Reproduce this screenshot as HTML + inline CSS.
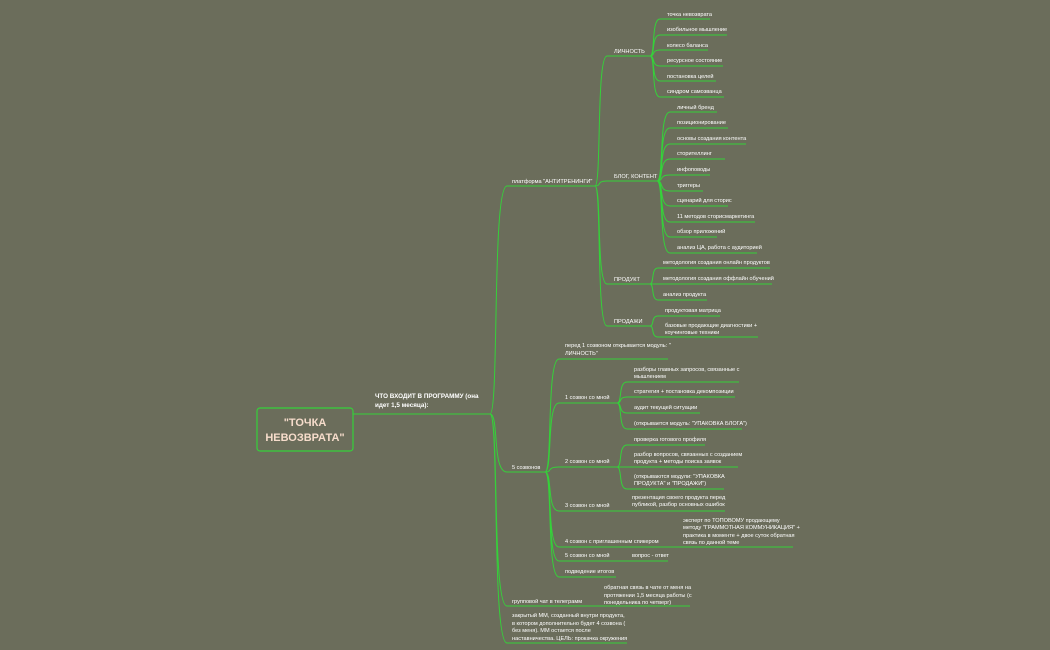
<!DOCTYPE html>
<html><head><meta charset="utf-8"><style>
html,body{margin:0;padding:0;background:#6b6d5b;width:1050px;height:650px;overflow:hidden}
svg{display:block}
text{font-family:"Liberation Sans","DejaVu Sans",sans-serif;font-size:5.6px;fill:#fff}
.b{font-size:7px;font-weight:bold}
.m{font-size:6px}
</style></head><body>
<svg id="s" width="1050" height="650" viewBox="0 0 1050 650">
<g id="lines" fill="none" stroke="#35d13a" stroke-width="1"></g>
<rect x="257" y="408" width="96" height="43" rx="3" fill="#6b6d5b" stroke="#35d13a" stroke-width="1.2"/>
<text x="305" y="426" text-anchor="middle" style="font-size:11px;font-weight:bold;fill:#f6dccb">"ТОЧКА</text>
<text x="305" y="441" text-anchor="middle" style="font-size:11px;font-weight:bold;fill:#f6dccb">НЕВОЗВРАТА"</text>
<text x="375" y="398" class="b" style="font-size:6.3px">ЧТО ВХОДИТ В ПРОГРАММУ (она</text>
<text x="375" y="407" class="b" style="font-size:6.3px">идет  1,5 месяца):</text>

<text x="512" y="183">платформа "АНТИТРЕНИНГИ"</text>
<text x="512" y="469">5 созвонов</text>
<text x="512" y="603">групповой чат в телеграмм</text>
<text x="512" y="617">закрытый ММ,  созданный внутри продукта,</text>
<text x="512" y="625">в котором дополнительно будет 4 созвона (</text>
<text x="512" y="632">без меня). ММ остается после</text>
<text x="512" y="640">наставничества. ЦЕЛЬ:  прокачка окружения</text>

<text x="614" y="53">ЛИЧНОСТЬ</text>
<text x="614" y="178">БЛОГ, КОНТЕНТ</text>
<text x="614" y="281">ПРОДУКТ</text>
<text x="614" y="323">ПРОДАЖИ</text>

<text x="667" y="16">точка невозврата</text>
<text x="667" y="31">изобильное мышление</text>
<text x="667" y="47">колесо баланса</text>
<text x="667" y="62">ресурсное состояние</text>
<text x="667" y="78">постановка целей</text>
<text x="667" y="93">синдром самозванца</text>

<text x="677" y="109">личный бренд</text>
<text x="677" y="124">позиционирование</text>
<text x="677" y="140">основы создания контента</text>
<text x="677" y="155">сторителлинг</text>
<text x="677" y="171">инфоповоды</text>
<text x="677" y="187">триггеры</text>
<text x="677" y="202">сценарий для сторис</text>
<text x="677" y="218">11 методов сторисмаркетинга</text>
<text x="677" y="233">обзор приложений</text>
<text x="677" y="249">анализ ЦА, работа с аудиторией</text>

<text x="663" y="264">методология создания онлайн продуктов</text>
<text x="663" y="280">методология создания оффлайн обучений</text>
<text x="663" y="296">анализ продукта</text>

<text x="665" y="312">продуктовая матрица</text>
<text x="665" y="327">базовые продающие диагностики  +</text>
<text x="665" y="334">коучинговые техники</text>

<text x="565" y="347">перед 1 созвоном открывается модуль: "</text>
<text x="565" y="355">ЛИЧНОСТЬ"</text>
<text x="565" y="399">1 созвон со мной</text>
<text x="565" y="463">2 созвон со мной</text>
<text x="565" y="507">3 созвон со мной</text>
<text x="565" y="543">4 созвон  с приглашенным  спикером</text>
<text x="565" y="557">5 созвон со мной</text>
<text x="565" y="573">подведение итогов</text>

<text x="634" y="371">разборы  главных запросов, связанные с</text>
<text x="634" y="378">мышлением</text>
<text x="634" y="393">стратегия + постановка декомпозиции</text>
<text x="634" y="409">аудит текущей ситуации</text>
<text x="634" y="425">(открывается модуль: "УПАКОВКА БЛОГА")</text>

<text x="634" y="441">проверка готового профиля</text>
<text x="634" y="456">разбор вопросов, связанных с созданием</text>
<text x="634" y="463">продукта + методы поиска  заявок</text>
<text x="634" y="478">(открываются модули: "УПАКОВКА</text>
<text x="634" y="485">ПРОДУКТА" и "ПРОДАЖИ")</text>

<text x="632" y="499">презентация своего продукта перед</text>
<text x="632" y="506">публикой, разбор  основных ошибок</text>

<text x="683" y="522">эксперт по ТОПОВОМУ продающему</text>
<text x="683" y="529">методу "ГРАММОТНАЯ КОММУНИКАЦИЯ" +</text>
<text x="683" y="537">практика в моменте + двое суток обратная</text>
<text x="683" y="544">связь по данной теме</text>

<text x="632" y="557">вопрос - ответ</text>

<text x="604" y="589">обратная связь в чате от меня на</text>
<text x="604" y="597">протяжении 1,5 месяца работы (с</text>
<text x="604" y="604">понедельника по четверг)</text>
</svg>
<script>
var g=document.getElementById('lines'),d='';
function e(px,py,cx,cy,ex){var dx=cx-px;d+='M'+px+' '+py+' C'+(px+dx*0.55)+' '+py+' '+(px+dx*0.1)+' '+cy+' '+cx+' '+cy+' L'+ex+' '+cy+' ';}
d+='M353 414 L490 414 ';
e(490,414,507,186,595);e(490,414,507,472,545);e(490,414,507,606,690);e(490,414,507,643,627);
e(595,186,607,56,650);e(595,186,607,181,657);e(595,186,607,284,650);e(595,186,607,326,650);
[[19,710],[35,727],[50,708],[66,723],[81,716],[97,724]].forEach(function(a){e(650,56,660,a[0],a[1]);});
[[112,717],[128,728],[144,746],[159,725],[175,710],[191,703],[206,728],[222,755],[237,717],[253,757]].forEach(function(a){e(657,181,670,a[0],a[1]);});
[[268,770],[284,772],[300,707]].forEach(function(a){e(650,284,658,a[0],a[1]);});
[[316,720],[337,758]].forEach(function(a){e(650,326,658,a[0],a[1]);});
[[359,668],[403,617],[467,617],[511,617],[547,677],[561,630],[577,616]].forEach(function(a){e(545,472,559,a[0],a[1]);});
[[382,739],[397,735],[413,700],[429,742]].forEach(function(a){e(617,403,627,a[0],a[1]);});
[[445,705],[467,738],[489,724]].forEach(function(a){e(617,467,627,a[0],a[1]);});
e(617,511,627,511,725);e(677,547,680,547,793);e(630,561,632,561,668);
g.innerHTML='<path d="'+d+'"/>';
</script>
</body></html>
